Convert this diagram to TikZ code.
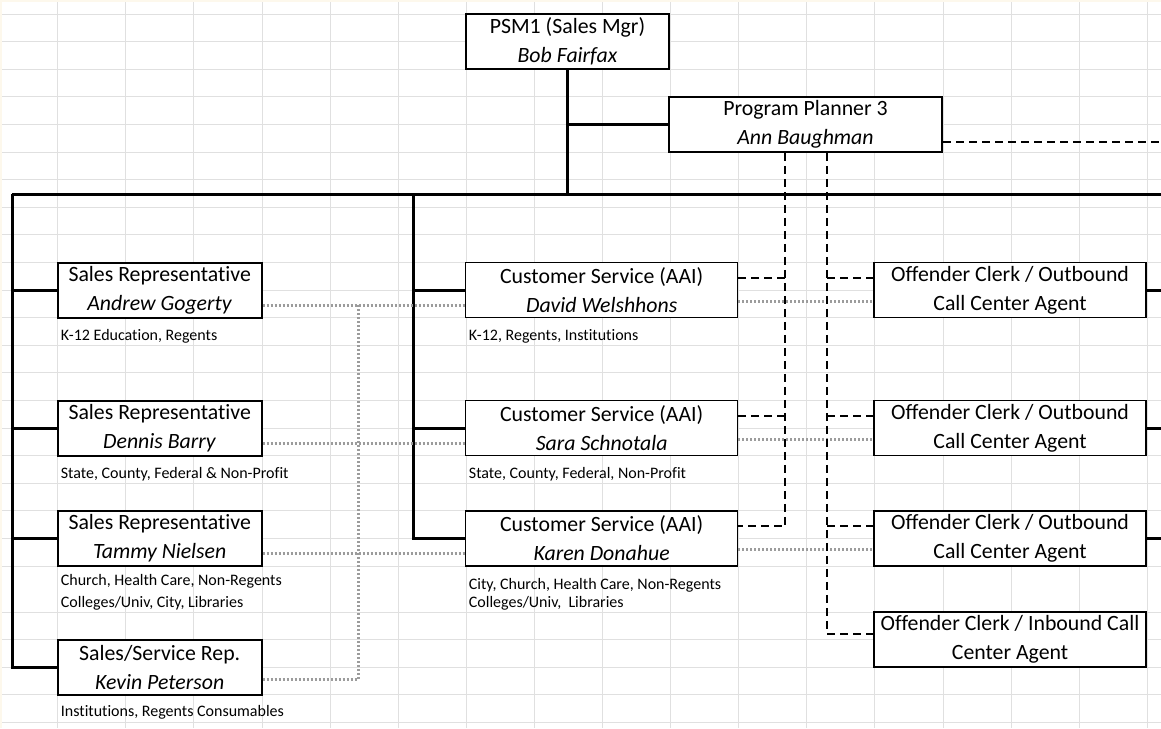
\documentclass[tikz,border=0pt]{standalone}
\usepackage{fontspec}
\setmainfont{Carlito}[Ligatures={NoCommon}]
\definecolor{gridgray}{HTML}{E0E0E0}
\definecolor{dotgray}{HTML}{9C9C9C}
\definecolor{cream}{HTML}{FDF8EC}

\begin{document}
\begin{tikzpicture}[x=1pt,y=-1pt,
    box/.style={draw,line width=2pt,fill=white,inner sep=0pt,align=center,
      minimum height=55pt,font=\fontsize{21.8}{29}\selectfont},
    thinbox/.style={box,line width=1.4pt},
    note/.style={anchor=west,inner sep=0pt,align=left,font=\fontsize{16}{21.7}\selectfont},
    solidline/.style={line width=3pt},
    dashline/.style={line width=2pt,dash pattern=on 8pt off 5pt},
    dotline/.style={line width=3pt,dotgray,dash pattern=on 2pt off 2pt}]
  \useasboundingbox (0,0) rectangle (1161,728);
  % sheet
  \fill[white] (0,0) rectangle (1161,728);
  \fill[cream] (0,0) rectangle (1161,2);
  \fill[cream] (0,0) rectangle (2,728);
  \foreach \k in {0,...,16}
    \draw[gridgray,line width=1pt] ({57.7+68.1*\k},2) -- ({57.7+68.1*\k},728);
  \foreach \k in {0,...,20}
    \draw[gridgray,line width=1pt] (2,{14+27.6*\k}) -- (1161,{14+27.6*\k});
  \foreach \k in {0,...,4}
    \draw[gridgray,line width=1pt] (2,{612+27.6*\k}) -- (1161,{612+27.6*\k});

  % boxes
  \node[box,minimum width=203pt] (psm) at (567.5,41.5) {PSM1 (Sales Mgr)\\\textit{Bob Fairfax}};
  \node[box,minimum width=273pt] (planner) at (805.5,124.4) {Program Planner 3\\\textit{Ann Baughman}};

  \node[box,minimum width=204pt] (andrew) at (159.7,290) {Sales Representative\\\textit{Andrew Gogerty}};
  \node[box,minimum width=204pt] (dennis) at (159.7,428) {Sales Representative\\\textit{Dennis Barry}};
  \node[box,minimum width=204pt] (tammy) at (159.7,538.4) {Sales Representative\\\textit{Tammy Nielsen}};
  \node[box,minimum width=204pt] (kevin) at (159.7,667.2) {Sales/Service Rep.\\\textit{Kevin Peterson}};

  \node[thinbox,minimum width=272pt] (david) at (601.7,290) {Customer Service (AAI)\\\textit{David Welshhons}};
  \node[thinbox,minimum width=272pt] (sara) at (601.7,428) {Customer Service (AAI)\\\textit{Sara Schnotala}};
  \node[thinbox,minimum width=272pt] (karen) at (601.7,538.4) {Customer Service (AAI)\\\textit{Karen Donahue}};

  \node[thinbox,minimum width=272pt] (off1) at (1010,290) {Offender Clerk / Outbound\\Call Center Agent};
  \node[thinbox,minimum width=272pt] (off2) at (1010,428) {Offender Clerk / Outbound\\Call Center Agent};
  \node[thinbox,minimum width=272pt] (off3) at (1010,538.4) {Offender Clerk / Outbound\\Call Center Agent};
  \node[thinbox,minimum width=272pt] (inbound) at (1010,639.6) {Offender Clerk / Inbound Call\\Center Agent};

  % notes
  \node[note] (andrewnote) at (60.7,336.7) {K-12 Education, Regents};
  \node[note] (dennisnote) at (60.7,474) {State, County, Federal \& Non-Profit};
  \node[note] (tammynote) at (60.7,592.5) {Church, Health Care, Non-Regents\\Colleges/Univ, City, Libraries};
  \node[note] (kevinnote) at (60.7,712.7) {Institutions, Regents Consumables};
  \node[note] (davidnote) at (468.7,336.7) {K-12, Regents, Institutions};
  \node[note] (saranote) at (468.7,474) {State, County, Federal, Non-Profit};
  \node[note,font=\fontsize{16}{18}\selectfont] (karennote) at (468.7,594.3) {City, Church, Health Care, Non-Regents\\Colleges/Univ,\ \ Libraries};

  % reporting lines
  \coordinate (busL) at (12,194);
  \coordinate (busR) at (1161,194);
  \coordinate (midtop) at (413.3,194);
  \draw[solidline] (busL) -- (busR);
  \draw[solidline] (psm.south) -- (psm.south |- busL);
  \draw[solidline] (psm.south |- planner.west) -- (planner.west);
  \draw[solidline] (busL) -- (busL |- kevin.west) -- (kevin.west);
  \foreach \n in {andrew,dennis,tammy}
    \draw[solidline] (busL |- \n.west) -- (\n.west);
  \draw[solidline] (midtop) -- (midtop |- karen.west) -- (karen.west);
  \foreach \n in {david,sara}
    \draw[solidline] (midtop |- \n.west) -- (\n.west);
  \foreach \n in {off1,off2,off3}
    \draw[solidline] (\n.east) -- (\n.east -| busR);

  % dotted links
  \coordinate (dotbus) at (358.3,0);
  \foreach \n/\m in {andrew/david,dennis/sara,tammy/karen}{
    \coordinate (\n-o) at ([yshift=-15pt]\n.east);
    \draw[dotline] (\n-o) -- (\n-o -| \m.west);
  }
  \coordinate (kevin-o) at ([yshift=-12pt]kevin.east);
  \draw[dotline] (kevin-o) -- (kevin-o -| dotbus) -- (andrew-o -| dotbus);
  \foreach \n/\m in {david/off1,sara/off2,karen/off3}{
    \coordinate (\n-o) at ([yshift=-11pt]\n.east);
    \draw[dotline] (\n-o) -- (\n-o -| \m.west);
  }

  % dashed links from the planner
  \coordinate (planner-o) at ([yshift=-18pt]planner.east);
  \draw[dashline] (planner-o) -- (planner-o -| busR);
  \coordinate (csbus) at ([xshift=-20.5pt]planner.south);
  \coordinate (ocbus) at ([xshift=21.5pt]planner.south);
  \foreach \n in {david,sara,karen}
    \coordinate (\n-i) at ([yshift=12pt]\n.east);
  \foreach \n in {off1,off2,off3}
    \coordinate (\n-i) at ([yshift=12pt]\n.west);
  \coordinate (inbound-i) at ([yshift=6pt]inbound.west);
  \draw[dashline] (csbus) -- (csbus |- karen-i) -- (karen-i);
  \foreach \n in {david,sara}
    \draw[dashline] (csbus |- \n-i) -- (\n-i);
  \draw[dashline] (ocbus) -- (ocbus |- inbound-i) -- (inbound-i);
  \foreach \n in {off1,off2,off3}
    \draw[dashline] (ocbus |- \n-i) -- (\n-i);
\end{tikzpicture}
\end{document}
